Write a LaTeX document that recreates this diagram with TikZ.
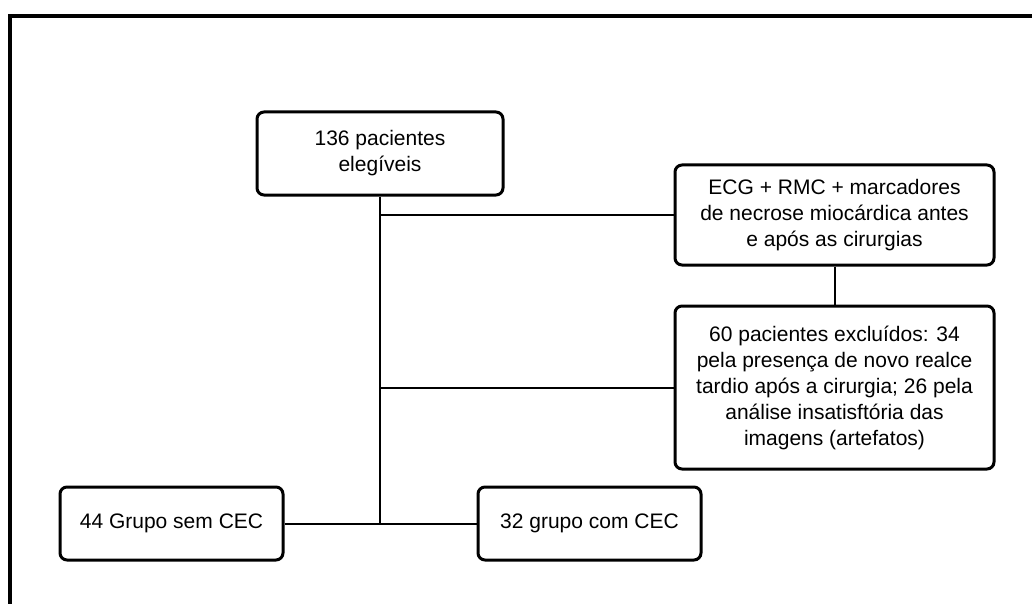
\documentclass[tikz,border=0pt]{standalone}
\usepackage{fontspec}
\setmainfont{Liberation Sans}
\begin{document}
\begin{tikzpicture}[x=1pt,y=-1pt,
  box/.style={draw=black, line width=3pt, rounded corners=7pt, fill=white,
    align=center, inner sep=0pt, font=\fontsize{21}{26}\selectfont},
  conn/.style={draw=black, line width=2pt}]
\useasboundingbox[fill=white] (0,0) rectangle (1032,604);
\draw[line width=3.5pt] (10,604) -- (10,16) -- (1032,16);
\node[box, minimum width=246pt, minimum height=83pt] (top) at (380,153.5) {136 pacientes\\elegíveis};
\node[box, minimum width=319pt, minimum height=100pt] (ecg) at (834.5,215) {ECG + RMC + marcadores\\de necrose miocárdica antes\\e após as cirurgias};
\node[box, minimum width=319pt, minimum height=163pt] (ex) at (834.5,387.5) {60 pacientes excluídos: 34\\pela presença de novo realce\\tardio após a cirurgia; 26 pela\\análise insatisftória das\\imagens (artefatos)};
\node[box, minimum width=223pt, minimum height=73pt] (lb) at (171.5,523.5) {44 Grupo sem CEC};
\node[box, minimum width=223pt, minimum height=73pt] (rb) at (589.5,523.5) {32 grupo com CEC};
\coordinate (j) at (380,523.5);
\draw[conn] (top.south) -- (j);
\draw[conn] (top.south |- ecg.west) -- (ecg.west);
\draw[conn] (top.south |- ex.west) -- (ex.west);
\draw[conn] (lb.east) -- (rb.west);
\draw[conn] (ecg.south) -- (ex.north);
\end{tikzpicture}
\end{document}
